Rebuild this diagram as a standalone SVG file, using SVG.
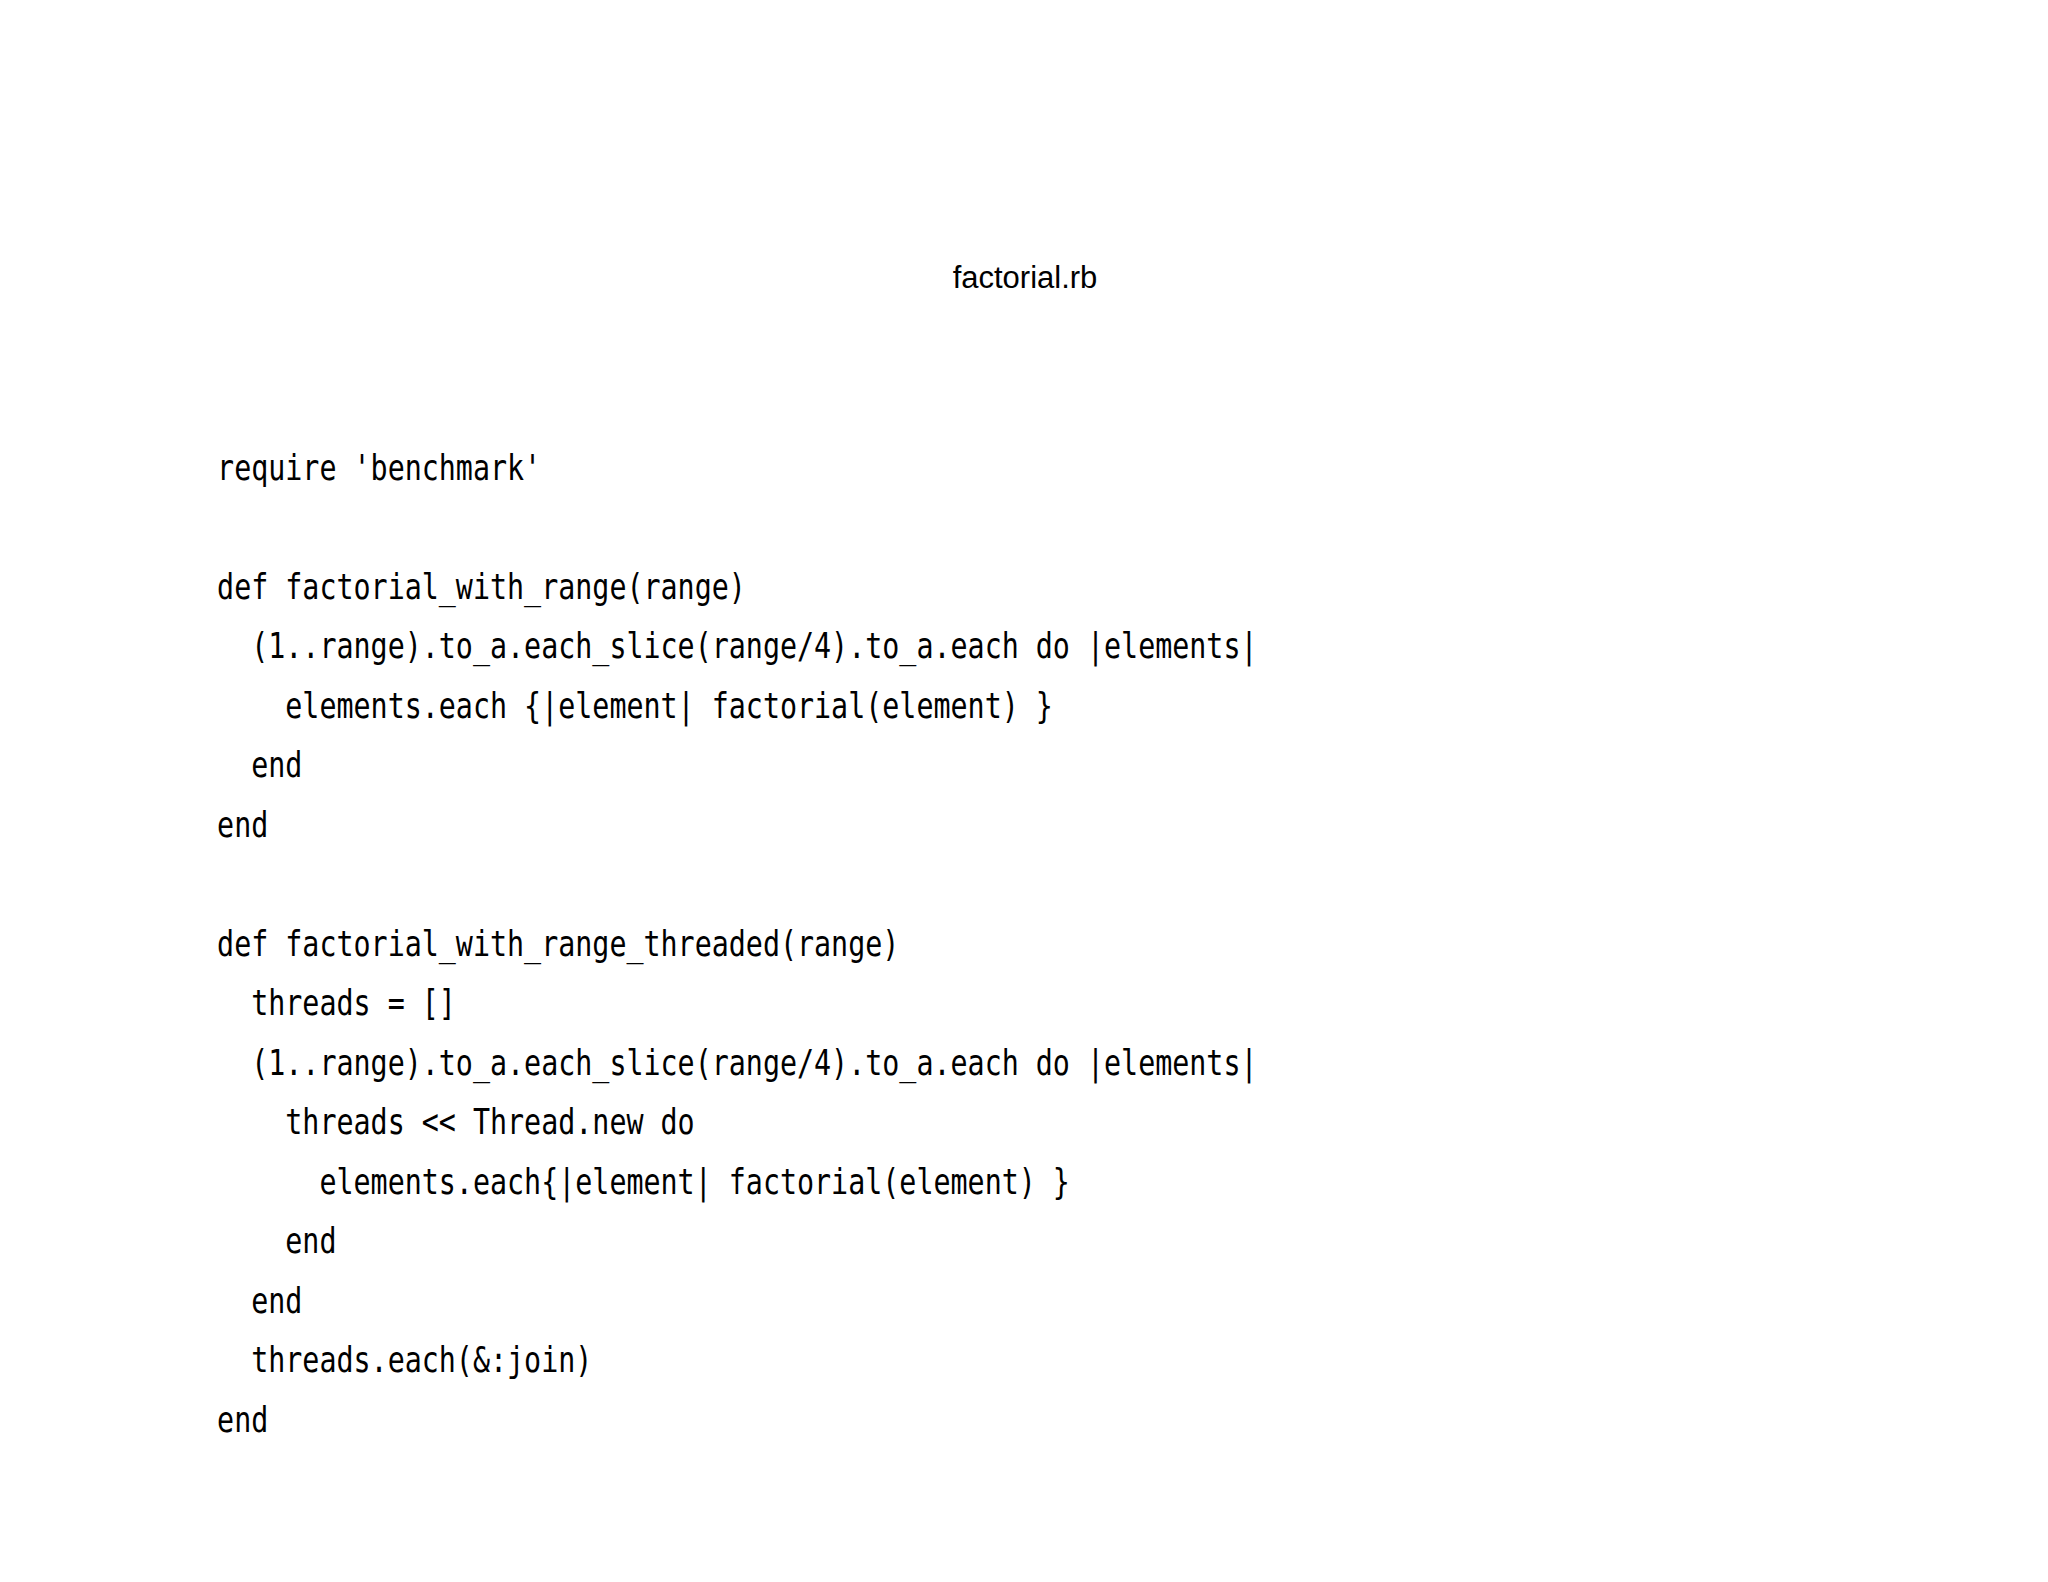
<svg xmlns="http://www.w3.org/2000/svg" width="2048" height="1582" viewBox="0 0 2048 1582">
<style>
.t{font-family:"Liberation Sans",Arial,sans-serif;font-size:31px;fill:#000}
.c{font-family:"DejaVu Sans Mono","Liberation Mono",monospace;font-size:35px;fill:#000;white-space:pre}
</style>
<rect width="2048" height="1582" fill="#fff"/>
<g id="title"><text class="t" x="1025" y="288" text-anchor="middle">factorial.rb</text></g>
<g id="code" xml:space="preserve" transform="scale(0.81,1)">
<text class="c" x="268" y="480">require 'benchmark'</text>
<text class="c" x="268" y="599">def factorial_with_range(range)</text>
<text class="c" x="268" y="658">  (1..range).to_a.each_slice(range/4).to_a.each do |elements|</text>
<text class="c" x="268" y="718">    elements.each {|element| factorial(element) }</text>
<text class="c" x="268" y="777">  end</text>
<text class="c" x="268" y="837">end</text>
<text class="c" x="268" y="956">def factorial_with_range_threaded(range)</text>
<text class="c" x="268" y="1015">  threads = []</text>
<text class="c" x="268" y="1075">  (1..range).to_a.each_slice(range/4).to_a.each do |elements|</text>
<text class="c" x="268" y="1134">    threads &lt;&lt; Thread.new do</text>
<text class="c" x="268" y="1194">      elements.each{|element| factorial(element) }</text>
<text class="c" x="268" y="1253">    end</text>
<text class="c" x="268" y="1313">  end</text>
<text class="c" x="268" y="1372">  threads.each(&amp;:join)</text>
<text class="c" x="268" y="1432">end</text>
</g>
</svg>
